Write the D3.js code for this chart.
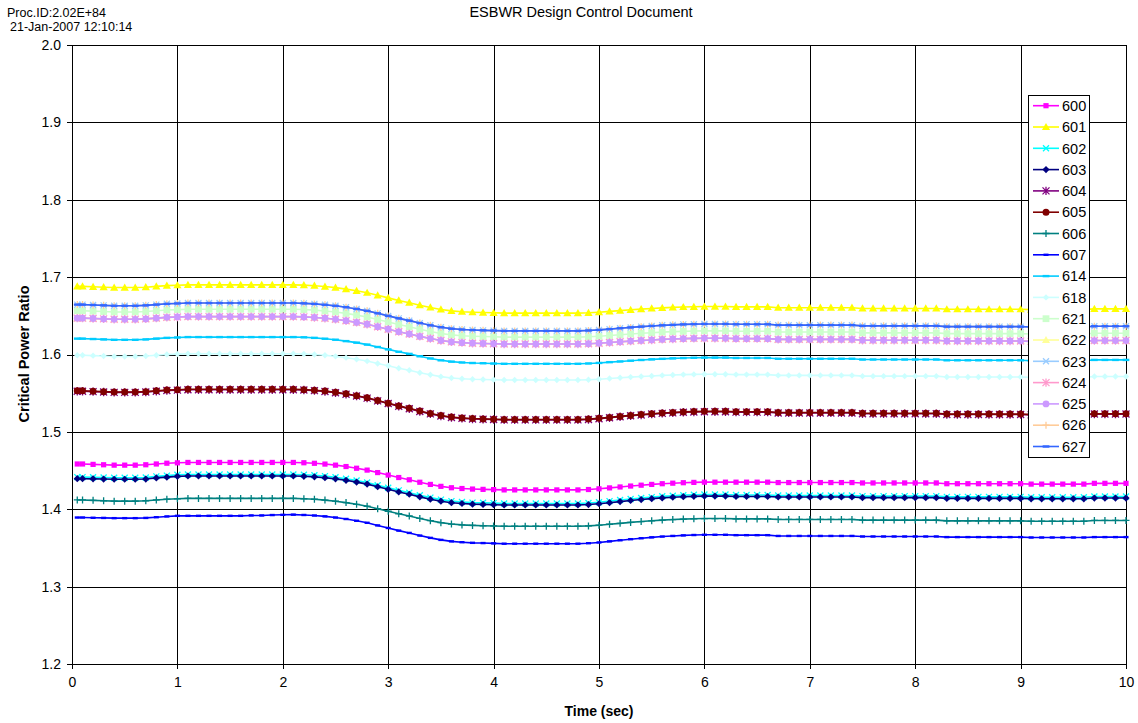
<!DOCTYPE html>
<html><head><meta charset="utf-8">
<script src="https://cdn.jsdelivr.net/npm/d3@7"></script>
<style>body{margin:0;background:#fff;} text{font-family:"Liberation Sans",Arial,sans-serif;}</style>
</head><body><svg id="c" width="1138" height="723"></svg>
<script>
const time=[0.05,0.1,0.2,0.3,0.4,0.5,0.6,0.7,0.8,0.9,1,1.1,1.2,1.3,1.4,1.5,1.6,1.7,1.8,1.9,2,2.1,2.2,2.3,2.4,2.5,2.6,2.7,2.8,2.9,3,3.1,3.2,3.3,3.4,3.5,3.6,3.7,3.8,3.9,4,4.1,4.2,4.3,4.4,4.5,4.6,4.7,4.8,4.9,5,5.1,5.2,5.3,5.4,5.5,5.6,5.7,5.8,5.9,6,6.1,6.2,6.3,6.4,6.5,6.6,6.7,6.8,6.9,7,7.1,7.2,7.3,7.4,7.5,7.6,7.7,7.8,7.9,8,8.1,8.2,8.3,8.4,8.5,8.6,8.7,8.8,8.9,9,9.1,9.2,9.3,9.4,9.5,9.6,9.7,9.8,9.9,10];

const s600=[1.4585,1.4585,1.458,1.4575,1.457,1.457,1.457,1.4575,1.4585,1.4595,1.46,
1.4605,1.4605,1.4605,1.4605,1.4605,1.4605,1.4605,1.4605,1.4605,1.4605,1.4605,
1.4601,1.4594,1.4584,1.457,1.4552,1.453,1.4506,1.4474,1.4442,1.441,1.4381,1.4349,1.4321,1.4296,1.4278,1.4268,1.4261,1.4257,1.4254,
1.425,1.425,1.425,1.425,1.425,1.425,1.425,1.425,
1.4255,1.4264,1.4276,1.4288,1.43,1.4311,1.4321,1.433,1.4337,1.4343,1.4347,
1.435,1.435,1.435,
1.435,1.435,1.435,1.435,
1.4345,1.4345,1.4345,1.4345,1.4345,1.4345,1.4345,1.4345,
1.434,1.434,1.434,1.434,1.434,1.434,1.434,1.434,
1.433,1.433,1.433,1.433,1.433,1.433,1.433,1.433,
1.4325,1.4325,1.4325,1.4325,1.4325,1.4325,
1.4335,1.4335,1.4335,1.4335];

const s601=[1.688,1.688,1.6875,1.687,1.6865,1.6865,1.6865,1.687,1.688,1.689,1.6895,
1.69,1.69,1.69,1.69,1.69,1.69,1.69,1.69,1.69,1.69,1.69,
1.6896,1.6889,1.6878,1.6864,1.6845,1.6823,1.6798,1.6765,1.6732,1.6699,1.667,1.6637,1.6608,1.6582,1.6564,1.6553,1.6546,1.6542,1.6539,
1.6535,1.6535,1.6535,1.6535,1.6535,1.6535,1.6535,1.6535,
1.6539,1.6547,1.6557,1.6567,1.6578,1.6587,1.6595,1.6603,1.6609,1.6614,1.6617,
1.662,1.662,1.662,
1.6615,1.6615,1.6615,1.6615,
1.6605,1.6605,1.6605,1.6605,1.6605,1.6605,1.6605,1.6605,
1.6595,1.6595,1.6595,1.6595,1.6595,1.6595,1.6595,1.6595,
1.6585,1.6585,1.6585,1.6585,1.6585,1.6585,1.6585,1.6585,
1.658,1.658,1.658,1.658,1.658,1.658,
1.659,1.659,1.659,1.659];

const s602=[1.4415,1.4415,1.4413,1.441,1.4408,1.4408,1.4408,1.441,1.4425,1.4435,1.4445,
1.445,1.445,1.445,1.445,1.445,1.445,1.445,1.445,1.445,1.445,1.445,
1.4446,1.4439,1.4428,1.4413,1.4394,1.4371,1.4345,1.4311,1.4278,1.4244,1.4214,1.418,1.415,1.4124,1.4105,1.4094,1.4086,1.4083,1.4079,
1.4075,1.4075,1.4075,1.4075,1.4075,1.4075,1.4075,1.4075,
1.4081,1.4091,1.4105,1.4119,1.4133,1.4145,1.4157,1.4167,1.4175,1.4182,1.4187,
1.419,1.419,1.419,
1.4185,1.4185,1.4185,1.4185,
1.4178,1.4178,1.4178,1.4178,1.4178,1.4178,1.4178,1.4178,
1.417,1.417,1.417,1.417,1.417,1.417,1.417,1.417,
1.416,1.416,1.416,1.416,1.416,1.416,1.416,1.416,
1.4155,1.4155,1.4155,1.4155,1.4155,1.4155,
1.4165,1.4165,1.4165,1.4165];

const s603=[1.4395,1.4395,1.4393,1.439,1.4388,1.4388,1.4388,1.439,1.4405,1.4415,1.4425,
1.443,1.443,1.443,1.443,1.443,1.443,1.443,1.443,1.443,1.443,1.443,
1.4426,1.4419,1.4408,1.4393,1.4374,1.4351,1.4325,1.4291,1.4258,1.4224,1.4194,1.416,1.413,1.4104,1.4085,1.4074,1.4066,1.4063,1.4059,
1.4055,1.4055,1.4055,1.4055,1.4055,1.4055,1.4055,1.4055,
1.4061,1.4071,1.4085,1.4099,1.4113,1.4125,1.4137,1.4147,1.4155,1.4162,1.4167,
1.417,1.417,1.417,
1.4165,1.4165,1.4165,1.4165,
1.4158,1.4158,1.4158,1.4158,1.4158,1.4158,1.4158,1.4158,
1.415,1.415,1.415,1.415,1.415,1.415,1.415,1.415,
1.414,1.414,1.414,1.414,1.414,1.414,1.414,1.414,
1.4135,1.4135,1.4135,1.4135,1.4135,1.4135,
1.4145,1.4145,1.4145,1.4145];

const s604=[1.5525,1.5525,1.552,1.5515,1.551,1.551,1.551,1.5515,1.5525,1.5535,1.554,
1.5545,1.5545,1.5545,1.5545,1.5545,1.5545,1.5545,1.5545,1.5545,1.5545,1.5545,
1.5541,1.5533,1.5522,1.5506,1.5487,1.5463,1.5436,1.5401,1.5366,1.5331,1.5299,1.5264,1.5233,1.5206,1.5186,1.5175,1.5167,1.5163,1.5159,
1.5155,1.5155,1.5155,1.5155,1.5155,1.5155,1.5155,1.5155,
1.516,1.517,1.5182,1.5195,1.5208,1.5219,1.523,1.5239,1.5246,1.5253,1.5257,
1.526,1.526,1.526,
1.5255,1.5255,1.5255,1.5255,
1.5245,1.5245,1.5245,1.5245,1.5245,1.5245,1.5245,1.5245,
1.5235,1.5235,1.5235,1.5235,1.5235,1.5235,1.5235,1.5235,
1.5225,1.5225,1.5225,1.5225,1.5225,1.5225,1.5225,1.5225,
1.522,1.522,1.522,1.522,1.522,1.522,
1.523,1.523,1.523,1.523];

const s605=[1.553,1.553,1.5525,1.552,1.5515,1.5515,1.5515,1.552,1.553,1.554,1.5545,
1.555,1.555,1.555,1.555,1.555,1.555,1.555,1.555,1.555,1.555,1.555,
1.5546,1.5538,1.5527,1.5511,1.5492,1.5468,1.5441,1.5406,1.5371,1.5336,1.5304,1.5269,1.5238,1.5211,1.5191,1.518,1.5172,1.5168,1.5164,
1.516,1.516,1.516,1.516,1.516,1.516,1.516,1.516,
1.5165,1.5175,1.5187,1.52,1.5213,1.5224,1.5235,1.5244,1.5251,1.5258,1.5262,
1.5265,1.5265,1.5265,
1.526,1.526,1.526,1.526,
1.525,1.525,1.525,1.525,1.525,1.525,1.525,1.525,
1.524,1.524,1.524,1.524,1.524,1.524,1.524,1.524,
1.523,1.523,1.523,1.523,1.523,1.523,1.523,1.523,
1.5225,1.5225,1.5225,1.5225,1.5225,1.5225,
1.5235,1.5235,1.5235,1.5235];

const s606=[1.412,1.412,1.4115,1.411,1.4105,1.4105,1.4105,1.411,1.412,1.413,1.4135,
1.414,1.414,1.414,1.414,1.414,1.414,1.414,1.414,1.414,1.414,1.414,
1.4136,1.4129,1.4118,1.4104,1.4086,1.4064,1.4039,1.4007,1.3974,1.3942,1.3913,1.3881,1.3852,1.3827,1.3809,1.3798,1.3791,1.3787,1.3784,
1.378,1.378,1.378,1.378,1.378,1.378,1.378,1.378,
1.3785,1.3794,1.3806,1.3818,1.383,1.3841,1.3851,1.386,1.3867,1.3873,1.3877,
1.388,1.388,1.388,
1.3875,1.3875,1.3875,1.3875,
1.3868,1.3868,1.3868,1.3868,1.3868,1.3868,1.3868,1.3868,
1.386,1.386,1.386,1.386,1.386,1.386,1.386,1.386,
1.385,1.385,1.385,1.385,1.385,1.385,1.385,1.385,
1.3845,1.3845,1.3845,1.3845,1.3845,1.3845,
1.3855,1.3855,1.3855,1.3855];

const s607=[1.3893,1.3893,1.389,1.3888,1.3885,1.3885,1.3885,1.3888,1.3897,1.3907,1.3915,
1.3915,1.3915,1.3915,1.3915,1.3915,1.3915,1.392,1.392,1.3925,1.3928,1.393,
1.3926,1.3919,1.3908,1.3893,1.3874,1.3851,1.3825,1.3791,1.3758,1.3724,1.3694,1.366,1.363,1.3604,1.3585,1.3574,1.3566,1.3563,1.3559,
1.3555,1.3555,1.3555,1.3555,1.3555,1.3555,1.3555,1.3555,
1.3561,1.3571,1.3585,1.3599,1.3613,1.3625,1.3637,1.3647,1.3655,1.3662,1.3667,
1.367,1.367,1.367,
1.3665,1.3665,1.3665,1.3665,
1.3655,1.3655,1.3655,1.3655,1.3655,1.3655,1.3655,1.3655,
1.3648,1.3648,1.3648,1.3648,1.3648,1.3648,1.3648,1.3648,
1.364,1.364,1.364,1.364,1.364,1.364,1.364,1.364,
1.3635,1.3635,1.3635,1.3635,1.3635,1.3635,
1.364,1.364,1.364,1.364];

const s614=[1.6205,1.6205,1.62,1.6195,1.619,1.619,1.619,1.6195,1.6205,1.6215,1.622,
1.6225,1.6225,1.6225,1.6225,1.6225,1.6225,1.6225,1.6225,1.6225,1.6225,1.6225,
1.6222,1.6215,1.6204,1.6191,1.6173,1.6153,1.6128,1.6097,1.6066,1.6035,1.6008,1.5977,1.5949,1.5925,1.5908,1.5897,1.589,1.5887,1.5883,
1.588,1.588,1.588,1.588,1.588,1.588,1.588,1.588,
1.5884,1.5891,1.5901,1.591,1.592,1.5929,1.5937,1.5944,1.595,1.5954,1.5958,
1.596,1.596,1.596,
1.5955,1.5955,1.5955,1.5955,
1.5945,1.5945,1.5945,1.5945,1.5945,1.5945,1.5945,1.5945,
1.5935,1.5935,1.5935,1.5935,1.5935,1.5935,1.5935,1.5935,
1.5925,1.5925,1.5925,1.5925,1.5925,1.5925,1.5925,1.5925,
1.592,1.592,1.592,1.592,1.592,1.592,
1.593,1.593,1.593,1.593];

const s618=[1.599,1.599,1.5985,1.598,1.5975,1.5975,1.5975,1.598,1.599,1.6,1.6005,
1.601,1.601,1.601,1.601,1.601,1.601,1.601,1.601,1.601,1.601,1.601,
1.6007,1.6,1.599,1.5976,1.5959,1.5939,1.5915,1.5884,1.5854,1.5823,1.5796,1.5765,1.5738,1.5714,1.5697,1.5687,1.568,1.5677,1.5673,
1.567,1.567,1.567,1.567,1.567,1.567,1.567,1.567,
1.5674,1.568,1.5689,1.5699,1.5708,1.5716,1.5723,1.573,1.5735,1.574,1.5743,
1.5745,1.5745,1.5745,
1.574,1.574,1.574,1.574,
1.573,1.573,1.573,1.573,1.573,1.573,1.573,1.573,
1.572,1.572,1.572,1.572,1.572,1.572,1.572,1.572,
1.571,1.571,1.571,1.571,1.571,1.571,1.571,1.571,
1.5705,1.5705,1.5705,1.5705,1.5705,1.5705,
1.5715,1.5715,1.5715,1.5715];

const s621=[1.6565,1.6565,1.656,1.6555,1.655,1.655,1.655,1.6555,1.6565,1.6575,1.658,
1.6585,1.6585,1.6585,1.6585,1.6585,1.6585,1.6585,1.6585,1.6585,1.6585,1.6585,
1.6581,1.6574,1.6563,1.6549,1.6531,1.6509,1.6484,1.6452,1.6419,1.6387,1.6358,1.6326,1.6297,1.6272,1.6254,1.6243,1.6236,1.6232,1.6229,
1.6225,1.6225,1.6225,1.6225,1.6225,1.6225,1.6225,1.6225,
1.6229,1.6236,1.6246,1.6255,1.6265,1.6274,1.6282,1.6289,1.6295,1.6299,1.6303,
1.6305,1.6305,1.6305,
1.63,1.63,1.63,1.63,
1.629,1.629,1.629,1.629,1.629,1.629,1.629,1.629,
1.628,1.628,1.628,1.628,1.628,1.628,1.628,1.628,
1.627,1.627,1.627,1.627,1.627,1.627,1.627,1.627,
1.6265,1.6265,1.6265,1.6265,1.6265,1.6265,
1.6275,1.6275,1.6275,1.6275];

const s622=[1.647,1.647,1.6465,1.646,1.6455,1.6455,1.6455,1.646,1.647,1.648,1.6485,
1.649,1.649,1.649,1.649,1.649,1.649,1.649,1.649,1.649,1.649,1.649,
1.6486,1.6479,1.6469,1.6455,1.6437,1.6415,1.6391,1.6359,1.6327,1.6295,1.6266,1.6234,1.6206,1.6181,1.6163,1.6153,1.6146,1.6142,1.6139,
1.6135,1.6135,1.6135,1.6135,1.6135,1.6135,1.6135,1.6135,
1.6139,1.6146,1.6155,1.6164,1.6173,1.6181,1.6188,1.6195,1.62,1.6205,1.6208,
1.621,1.621,1.621,
1.6205,1.6205,1.6205,1.6205,
1.6195,1.6195,1.6195,1.6195,1.6195,1.6195,1.6195,1.6195,
1.6185,1.6185,1.6185,1.6185,1.6185,1.6185,1.6185,1.6185,
1.6175,1.6175,1.6175,1.6175,1.6175,1.6175,1.6175,1.6175,
1.617,1.617,1.617,1.617,1.617,1.617,
1.618,1.618,1.618,1.618];

const s623=[1.6645,1.6645,1.664,1.6635,1.663,1.663,1.663,1.6635,1.6645,1.6655,1.666,
1.6665,1.6665,1.6665,1.6665,1.6665,1.6665,1.6665,1.6665,1.6665,1.6665,1.6665,
1.6661,1.6654,1.6643,1.6629,1.6611,1.6589,1.6564,1.6532,1.6499,1.6467,1.6438,1.6406,1.6377,1.6352,1.6334,1.6323,1.6316,1.6312,1.6309,
1.6305,1.6305,1.6305,1.6305,1.6305,1.6305,1.6305,1.6305,
1.631,1.6318,1.6328,1.6339,1.635,1.636,1.6369,1.6377,1.6383,1.6389,1.6392,
1.6395,1.6395,1.6395,
1.639,1.639,1.639,1.639,
1.638,1.638,1.638,1.638,1.638,1.638,1.638,1.638,
1.637,1.637,1.637,1.637,1.637,1.637,1.637,1.637,
1.636,1.636,1.636,1.636,1.636,1.636,1.636,1.636,
1.6355,1.6355,1.6355,1.6355,1.6355,1.6355,
1.6365,1.6365,1.6365,1.6365];

const s624=[1.647,1.647,1.6465,1.646,1.6455,1.6455,1.6455,1.646,1.647,1.648,1.6485,
1.649,1.649,1.649,1.649,1.649,1.649,1.649,1.649,1.649,1.649,1.649,
1.6486,1.6479,1.6469,1.6455,1.6437,1.6415,1.6391,1.6359,1.6327,1.6295,1.6266,1.6234,1.6206,1.6181,1.6163,1.6153,1.6146,1.6142,1.6139,
1.6135,1.6135,1.6135,1.6135,1.6135,1.6135,1.6135,1.6135,
1.6139,1.6146,1.6155,1.6164,1.6173,1.6181,1.6188,1.6195,1.62,1.6205,1.6208,
1.621,1.621,1.621,
1.6205,1.6205,1.6205,1.6205,
1.6195,1.6195,1.6195,1.6195,1.6195,1.6195,1.6195,1.6195,
1.6185,1.6185,1.6185,1.6185,1.6185,1.6185,1.6185,1.6185,
1.6175,1.6175,1.6175,1.6175,1.6175,1.6175,1.6175,1.6175,
1.617,1.617,1.617,1.617,1.617,1.617,
1.618,1.618,1.618,1.618];

const s625=[1.647,1.647,1.6465,1.646,1.6455,1.6455,1.6455,1.646,1.647,1.648,1.6485,
1.649,1.649,1.649,1.649,1.649,1.649,1.649,1.649,1.649,1.649,1.649,
1.6486,1.6479,1.6469,1.6455,1.6437,1.6415,1.6391,1.6359,1.6327,1.6295,1.6266,1.6234,1.6206,1.6181,1.6163,1.6153,1.6146,1.6142,1.6139,
1.6135,1.6135,1.6135,1.6135,1.6135,1.6135,1.6135,1.6135,
1.6139,1.6146,1.6155,1.6164,1.6173,1.6181,1.6188,1.6195,1.62,1.6205,1.6208,
1.621,1.621,1.621,
1.6205,1.6205,1.6205,1.6205,
1.6195,1.6195,1.6195,1.6195,1.6195,1.6195,1.6195,1.6195,
1.6185,1.6185,1.6185,1.6185,1.6185,1.6185,1.6185,1.6185,
1.6175,1.6175,1.6175,1.6175,1.6175,1.6175,1.6175,1.6175,
1.617,1.617,1.617,1.617,1.617,1.617,
1.618,1.618,1.618,1.618];

const s626=[1.6645,1.6645,1.664,1.6635,1.663,1.663,1.663,1.6635,1.6645,1.6655,1.666,
1.6665,1.6665,1.6665,1.6665,1.6665,1.6665,1.6665,1.6665,1.6665,1.6665,1.6665,
1.6661,1.6654,1.6643,1.6629,1.6611,1.6589,1.6564,1.6532,1.6499,1.6467,1.6438,1.6406,1.6377,1.6352,1.6334,1.6323,1.6316,1.6312,1.6309,
1.6305,1.6305,1.6305,1.6305,1.6305,1.6305,1.6305,1.6305,
1.631,1.6318,1.6328,1.6339,1.635,1.636,1.6369,1.6377,1.6383,1.6389,1.6392,
1.6395,1.6395,1.6395,
1.639,1.639,1.639,1.639,
1.638,1.638,1.638,1.638,1.638,1.638,1.638,1.638,
1.637,1.637,1.637,1.637,1.637,1.637,1.637,1.637,
1.636,1.636,1.636,1.636,1.636,1.636,1.636,1.636,
1.6355,1.6355,1.6355,1.6355,1.6355,1.6355,
1.6365,1.6365,1.6365,1.6365];

const s627=[1.6645,1.6645,1.664,1.6635,1.663,1.663,1.663,1.6635,1.6645,1.6655,1.666,
1.6665,1.6665,1.6665,1.6665,1.6665,1.6665,1.6665,1.6665,1.6665,1.6665,1.6665,
1.6661,1.6654,1.6643,1.6629,1.6611,1.6589,1.6564,1.6532,1.6499,1.6467,1.6438,1.6406,1.6377,1.6352,1.6334,1.6323,1.6316,1.6312,1.6309,
1.6305,1.6305,1.6305,1.6305,1.6305,1.6305,1.6305,1.6305,
1.631,1.6318,1.6328,1.6339,1.635,1.636,1.6369,1.6377,1.6383,1.6389,1.6392,
1.6395,1.6395,1.6395,
1.639,1.639,1.639,1.639,
1.638,1.638,1.638,1.638,1.638,1.638,1.638,1.638,
1.637,1.637,1.637,1.637,1.637,1.637,1.637,1.637,
1.636,1.636,1.636,1.636,1.636,1.636,1.636,1.636,
1.6355,1.6355,1.6355,1.6355,1.6355,1.6355,
1.6365,1.6365,1.6365,1.6365];

const seriesNames=["600","601","602","603","604","605","606","607","614","618","621","622","623","624","625","626","627"];
const seriesValues=[s600,s601,s602,s603,s604,s605,s606,s607,s614,s618,s621,s622,s623,s624,s625,s626,s627];
const yTicks=[1.2,1.3,1.4,1.5,1.6,1.7,1.8,1.9,2.0];
const xTicks=[0,1,2,3,4,5,6,7,8,9,10];
const titleText="ESBWR Design Control Document";
const procText="Proc.ID:2.02E+84";
const dateText="21-Jan-2007 12:10:14";
const xTitle="Time (sec)";
const yTitle="Critical Power Ratio";

// styles (not data)
const styleMap={
 "600":{c:"#FF00FF",m:"square",r:2.6},
 "601":{c:"#FFFF00",m:"triangle",r:3.9},
 "602":{c:"#00FFFF",m:"x",r:3},
 "603":{c:"#000080",m:"diamond",r:3.6},
 "604":{c:"#800080",m:"asterisk",r:3.5},
 "605":{c:"#800000",m:"circle",r:3.5},
 "606":{c:"#008080",m:"plus",r:3.5},
 "607":{c:"#0000FF",m:"dash",r:1.8},
 "614":{c:"#00CCFF",m:"dash",r:2.4},
 "618":{c:"#CCFFFF",m:"diamond",r:3.2},
 "621":{c:"#CCFFCC",m:"square",r:3.4},
 "622":{c:"#FFFF99",m:"triangle",r:3.8},
 "623":{c:"#99CCFF",m:"x",r:3},
 "624":{c:"#FF99CC",m:"asterisk",r:3.5},
 "625":{c:"#CC99FF",m:"circle",r:3.4},
 "626":{c:"#FFCC99",m:"plus",r:3.5},
 "627":{c:"#3366FF",m:"dash",r:2.4}
};

const svg=d3.select("#c");
svg.append("rect").attr("width",1138).attr("height",723).attr("fill","#fff");
const L=72,R=1126,T=45,B=664;
const x=d3.scaleLinear().domain([0,10]).range([L,R]);
const y=d3.scaleLinear().domain([1.2,2.0]).range([B,T]);

// gridlines
const g=svg.append("g");
g.append("g").attr("transform",`translate(0,${B})`)
 .call(d3.axisBottom(x).tickValues(xTicks).tickSize(-(B-T)).tickFormat(""))
 .call(a=>a.select(".domain").remove())
 .call(a=>a.selectAll("line").attr("stroke","#000").attr("shape-rendering","crispEdges"));
g.append("g").attr("transform",`translate(${L},0)`)
 .call(d3.axisLeft(y).tickValues(yTicks).tickSize(-(R-L)).tickFormat(""))
 .call(a=>a.select(".domain").remove())
 .call(a=>a.selectAll("line").attr("stroke","#000").attr("shape-rendering","crispEdges"));

// axes
const ax=svg.append("g").attr("transform",`translate(0,${B})`)
 .call(d3.axisBottom(x).tickValues(xTicks).tickSize(5).tickPadding(8).tickFormat(d3.format("d")));
const ay=svg.append("g").attr("transform",`translate(${L},0)`)
 .call(d3.axisLeft(y).tickValues(yTicks).tickSize(5).tickPadding(6).tickFormat(d3.format(".1f")));
[ax,ay].forEach(a=>{
 a.select(".domain").attr("stroke","#000").attr("shape-rendering","crispEdges");
 a.selectAll("line").attr("stroke","#000").attr("shape-rendering","crispEdges");
 a.selectAll("text").attr("fill","#000").style("font-size","14px").style("font-family","'Liberation Sans',Arial,sans-serif");
});

function marker(sel,type,r,c){
 if(type==="square") sel.append("rect").attr("x",-r).attr("y",-r).attr("width",2*r).attr("height",2*r).attr("fill",c);
 else if(type==="circle") sel.append("circle").attr("r",r).attr("fill",c);
 else if(type==="triangle") sel.append("path").attr("d",`M0,${-r*1.05}L${r*1.05},${r*0.8}L${-r*1.05},${r*0.8}Z`).attr("fill",c);
 else if(type==="diamond") sel.append("path").attr("d",`M0,${-r}L${r},0L0,${r}L${-r},0Z`).attr("fill",c);
 else if(type==="x") sel.append("path").attr("d",`M${-r},${-r}L${r},${r}M${-r},${r}L${r},${-r}`).attr("stroke",c).attr("stroke-width",1.3).attr("fill","none");
 else if(type==="plus") sel.append("path").attr("d",`M${-r},0L${r},0M0,${-r}L0,${r}`).attr("stroke",c).attr("stroke-width",1.3).attr("fill","none");
 else if(type==="asterisk") sel.append("path").attr("d",`M${-r},${-r}L${r},${r}M${-r},${r}L${r},${-r}M0,${-r*1.2}L0,${r*1.2}`).attr("stroke",c).attr("stroke-width",1.3).attr("fill","none");
 else if(type==="dash") sel.append("rect").attr("x",-r*1.4).attr("y",-1.2).attr("width",r*2.8).attr("height",2.4).attr("fill",c);
}

const line=d3.line().x(d=>x(d[0])).y(d=>y(d[1]));
const plot=svg.append("g");
seriesNames.forEach((name,i)=>{
 const st=styleMap[name];
 const pts=time.map((t,j)=>[t,seriesValues[i][j]]);
 const sg=plot.append("g");
 sg.append("path").datum(pts).attr("d",line).attr("fill","none").attr("stroke",st.c).attr("stroke-width",1.6);
 sg.selectAll("g.m").data(pts).join("g").attr("class","m")
  .attr("transform",d=>`translate(${x(d[0])},${y(d[1])})`)
  .each(function(){marker(d3.select(this),st.m,st.r,st.c);});
});

// legend
const lg=svg.append("g");
const lx=1028, ly=95, lw=61, lh=362, rowH=21.3;
lg.append("rect").attr("x",lx+0.5).attr("y",ly+0.5).attr("width",lw).attr("height",lh).attr("fill","#fff").attr("stroke","#000");
seriesNames.forEach((name,i)=>{
 const st=styleMap[name];
 const cy=ly+10.7+i*rowH;
 lg.append("line").attr("x1",lx+5).attr("x2",lx+31).attr("y1",cy).attr("y2",cy).attr("stroke",st.c).attr("stroke-width",1.6);
 const mg=lg.append("g").attr("transform",`translate(${lx+18},${cy})`);
 marker(mg,st.m,st.r,st.c);
 lg.append("text").attr("x",lx+34).attr("y",cy).attr("dy","0.36em").style("font-size","14.5px").text(name);
});

// texts
svg.append("text").attr("x",7).attr("y",17).style("font-size","12.5px").text(procText);
svg.append("text").attr("x",10).attr("y",31).style("font-size","12.5px").text(dateText);
svg.append("text").attr("x",581).attr("y",17).attr("text-anchor","middle").style("font-size","14.5px").text(titleText);
svg.append("text").attr("x",599).attr("y",716).attr("text-anchor","middle").style("font-size","14px").style("font-weight","bold").text(xTitle);
svg.append("text").attr("transform","translate(29,354) rotate(-90)").attr("text-anchor","middle").style("font-size","14.5px").style("font-weight","bold").text(yTitle);
</script></body></html>
